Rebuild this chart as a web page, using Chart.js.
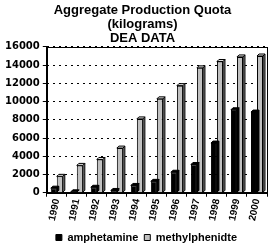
<!DOCTYPE html>
<html>
<head>
<meta charset="utf-8">
<script src="https://cdn.jsdelivr.net/npm/chart.js@4/dist/chart.umd.min.js"></script>
<style>
  html, body { margin: 0; padding: 0; background: #fff; }
  #wrap { width: 276px; height: 245px; }
</style>
</head>
<body>
<div id="wrap"><canvas id="quota" width="276" height="245"></canvas></div>
<script>
// --- data (kilograms) ---
const years = ["1990", "1991", "1992", "1993", "1994", "1995", "1996", "1997", "1998", "1999", "2000"];
const amphetamine = [500, 100, 600, 250, 800, 1250, 2250, 3100, 5450, 9100, 8850];
const methylphenidte = [1800, 3000, 3650, 4900, 8100, 10300, 11750, 13700, 14400, 14900, 15000];
const yTicks = [0, 2000, 4000, 6000, 8000, 10000, 12000, 14000, 16000];

// frame round the plot area (top + right edges)
const plotFrame = {
  id: "plotFrame",
  afterDraw(chart) {
    const { ctx, chartArea: a } = chart;
    ctx.save();
    ctx.strokeStyle = "#000";
    ctx.lineWidth = 1;
    ctx.strokeRect(Math.round(a.left) + 0.5, Math.round(a.top) + 0.5,
      Math.round(a.right - a.left), Math.round(a.bottom - a.top));
    ctx.restore();
  }
};

// title and legend sit a bit right of the canvas centre in the original
const shiftBlocks = {
  id: "shiftBlocks",
  afterUpdate(chart) {
    if (chart.titleBlock) {
      chart.titleBlock.left += 8;
      chart.titleBlock.right += 8;
    }
    if (chart.legend) {
      chart.legend.left += 12;
      chart.legend.right += 12;
      chart.legend.top += 3;
      chart.legend.bottom += 3;
      chart.legend.adjustHitBoxes();
    }
  }
};

// fake 3d side on each bar
const barDepth = {
  id: "barDepth",
  afterDatasetsDraw(chart) {
    const { ctx } = chart;
    const d = 2;
    chart.data.datasets.forEach((ds, i) => {
      const meta = chart.getDatasetMeta(i);
      meta.data.forEach((bar) => {
        const right = bar.x + bar.width / 2;
        const top = bar.y;
        const left = bar.x - bar.width / 2;
        ctx.save();
        ctx.fillStyle = i === 0 ? "#000" : "#808080";
        ctx.strokeStyle = "#000";
        ctx.lineWidth = 1;
        ctx.beginPath();
        ctx.moveTo(right, top);
        ctx.lineTo(right + d, top - d);
        ctx.lineTo(right + d, bar.base - d);
        ctx.lineTo(right, bar.base);
        ctx.closePath();
        ctx.fill();
        ctx.stroke();
        ctx.fillStyle = i === 0 ? "#000" : "#e0e0e0";
        ctx.beginPath();
        ctx.moveTo(left, top);
        ctx.lineTo(left + d, top - d);
        ctx.lineTo(right + d, top - d);
        ctx.lineTo(right, top);
        ctx.closePath();
        ctx.fill();
        ctx.stroke();
        ctx.restore();
      });
    });
  }
};

new Chart(document.getElementById("quota"), {
  type: "bar",
  data: {
    labels: years,
    datasets: [
      {
        label: "amphetamine",
        data: amphetamine,
        backgroundColor: "#000",
        borderColor: "#000",
        borderWidth: 1,
        barPercentage: 1.0,
        categoryPercentage: 0.6
      },
      {
        label: "methylphenidte",
        data: methylphenidte,
        backgroundColor: "#c0c0c0",
        borderColor: "#000",
        borderWidth: 1,
        barPercentage: 1.0,
        categoryPercentage: 0.6
      }
    ]
  },
  options: {
    responsive: false,
    animation: false,
    devicePixelRatio: 1,
    layout: { padding: { left: 2, right: 9, top: 0, bottom: -5 } },
    plugins: {
      title: {
        display: true,
        text: ["Aggregate Production Quota", "(kilograms)", "DEA DATA"],
        color: "#000",
        font: { family: "'Liberation Sans', Arial, sans-serif", size: 13, weight: "bold", lineHeight: 1.1 },
        padding: { top: 3, bottom: 1 }
      },
      legend: {
        position: "bottom",
        labels: {
          color: "#000",
          boxWidth: 6,
          boxHeight: 6,
          padding: 6,
          font: { family: "'Liberation Sans', Arial, sans-serif", size: 11, weight: "bold" }
        }
      },
      tooltip: { enabled: false }
    },
    scales: {
      x: {
        grid: { display: true, drawOnChartArea: false, color: "#000", tickLength: 4, offset: true },
        border: { display: true, color: "#000", width: 1 },
        ticks: {
          color: "#000",
          minRotation: 78,
          maxRotation: 78,
          padding: 1,
          font: { family: "'Liberation Sans', Arial, sans-serif", size: 10, weight: "bold" }
        }
      },
      y: {
        min: 0,
        max: 16000,
        afterBuildTicks(scale) {
          scale.ticks = yTicks.map((v) => ({ value: v }));
        },
        grid: { color: "#000", tickLength: 4 },
        border: { display: true, color: "#000", width: 1, dash: [2, 4] },
        ticks: {
          color: "#000",
          padding: 3,
          callback: (v) => String(v),
          font: { family: "'DejaVu Sans', sans-serif", size: 10, weight: "bold" }
        }
      }
    }
  },
  plugins: [plotFrame, shiftBlocks, barDepth]
});
</script>
</body>
</html>
